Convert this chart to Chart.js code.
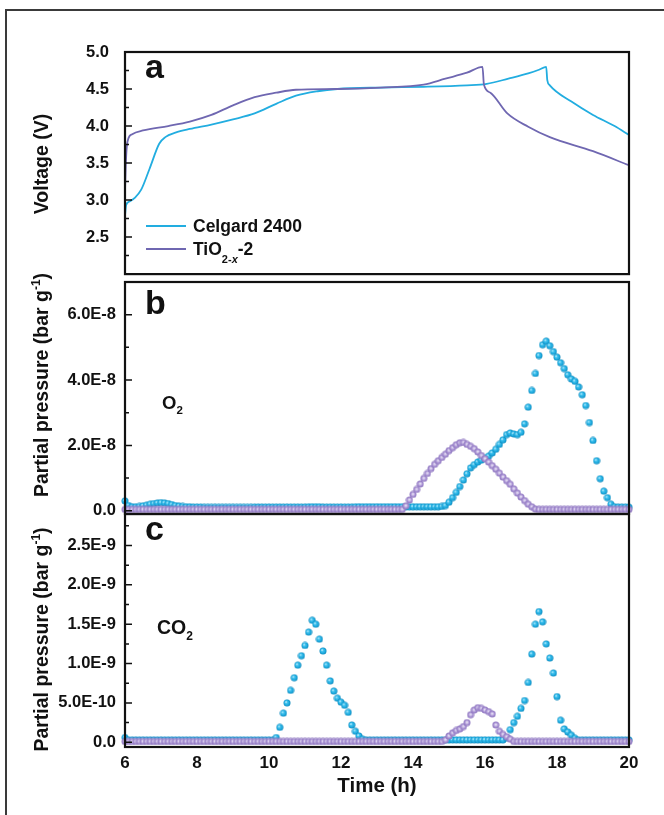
<!DOCTYPE html>
<html>
<head>
<meta charset="utf-8">
<script src="https://cdn.jsdelivr.net/npm/chart.js@4.4.1/dist/chart.umd.min.js"></script>
<style>
  body { margin: 0; background: #fff; }
  #fig { position: relative; width: 664px; height: 815px; overflow: hidden; background: #fff; }
  #frame { position: absolute; left: 5px; top: 9px; width: 700px; height: 900px;
           border-left: 2px solid #3a3a3a; border-top: 2px solid #3a3a3a; }
  .panel { position: absolute; left: 0; width: 664px; }
</style>
</head>
<body>
<div id="fig">
  <div id="frame"></div>
  <div class="panel" style="top:0;height:300px"><canvas id="voltage"></canvas></div>
  <div class="panel" style="top:262px;height:272px"><canvas id="oxygen"></canvas></div>
  <div class="panel" style="top:494px;height:321px"><canvas id="carbon"></canvas></div>
</div>
<script>
// sampling times of the gas analysis (h)
const time = [
  6.0, 6.1, 6.2, 6.3, 6.4, 6.5, 6.6, 6.7, 6.8, 6.9,
  7.0, 7.1, 7.2, 7.3, 7.4, 7.5, 7.6, 7.7, 7.8, 7.9,
  8.0, 8.1, 8.2, 8.3, 8.4, 8.5, 8.6, 8.7, 8.8, 8.9,
  9.0, 9.1, 9.2, 9.3, 9.4, 9.5, 9.6, 9.7, 9.8, 9.9,
  10.0, 10.1, 10.2, 10.3, 10.4, 10.5, 10.6, 10.7, 10.8, 10.9,
  11.0, 11.1, 11.2, 11.3, 11.4, 11.5, 11.6, 11.7, 11.8, 11.9,
  12.0, 12.1, 12.2, 12.3, 12.4, 12.5, 12.6, 12.7, 12.8, 12.9,
  13.0, 13.1, 13.2, 13.3, 13.4, 13.5, 13.6, 13.7, 13.8, 13.9,
  14.0, 14.1, 14.2, 14.3, 14.4, 14.5, 14.6, 14.7, 14.8, 14.9,
  15.0, 15.1, 15.2, 15.3, 15.4, 15.5, 15.6, 15.7, 15.8, 15.9,
  16.0, 16.1, 16.2, 16.3, 16.4, 16.5, 16.6, 16.7, 16.8, 16.9,
  17.0, 17.1, 17.2, 17.3, 17.4, 17.5, 17.6, 17.7, 17.8, 17.9,
  18.0, 18.1, 18.2, 18.3, 18.4, 18.5, 18.6, 18.7, 18.8, 18.9,
  19.0, 19.1, 19.2, 19.3, 19.4, 19.5, 19.6, 19.7, 19.8, 19.9,
  20.0
];

// O2 partial pressure, in units of 1E-8 bar g-1
const celgardO2 = [
  0.30, 0.16, 0.12, 0.12, 0.13, 0.15, 0.17, 0.20, 0.22, 0.24,
  0.25, 0.24, 0.22, 0.19, 0.16, 0.14, 0.13, 0.12, 0.12, 0.11,
  0.11, 0.11, 0.10, 0.10, 0.10, 0.10, 0.10, 0.10, 0.10, 0.10,
  0.10, 0.10, 0.10, 0.10, 0.10, 0.10, 0.11, 0.11, 0.11, 0.11,
  0.11, 0.11, 0.11, 0.11, 0.11, 0.11, 0.11, 0.11, 0.11, 0.11,
  0.11, 0.12, 0.12, 0.12, 0.12, 0.11, 0.11, 0.11, 0.11, 0.11,
  0.11, 0.11, 0.11, 0.11, 0.12, 0.12, 0.12, 0.12, 0.12, 0.12,
  0.12, 0.12, 0.12, 0.12, 0.12, 0.12, 0.12, 0.12, 0.12, 0.12,
  0.12, 0.12, 0.12, 0.12, 0.12, 0.12, 0.12, 0.12, 0.13, 0.16,
  0.26, 0.40, 0.56, 0.74, 0.94, 1.13, 1.31, 1.41, 1.49, 1.55,
  1.60, 1.67, 1.77, 1.88, 2.03, 2.17, 2.33, 2.38, 2.35, 2.33,
  2.40, 2.66, 3.17, 3.68, 4.20, 4.75, 5.08, 5.19, 5.05, 4.87,
  4.70, 4.53, 4.35, 4.16, 4.03, 3.96, 3.79, 3.55, 3.22, 2.70,
  2.15, 1.53, 0.98, 0.60, 0.40, 0.20, 0.12, 0.11, 0.11, 0.11,
  0.11
];
const tioO2 = [
  0.04, 0.04, 0.04, 0.04, 0.04, 0.04, 0.04, 0.04, 0.04, 0.04,
  0.04, 0.04, 0.04, 0.04, 0.04, 0.04, 0.04, 0.04, 0.04, 0.04,
  0.04, 0.04, 0.04, 0.04, 0.04, 0.04, 0.04, 0.04, 0.04, 0.04,
  0.04, 0.04, 0.04, 0.04, 0.04, 0.04, 0.04, 0.04, 0.04, 0.04,
  0.04, 0.04, 0.04, 0.04, 0.04, 0.04, 0.04, 0.04, 0.04, 0.04,
  0.04, 0.04, 0.04, 0.04, 0.04, 0.04, 0.04, 0.04, 0.04, 0.04,
  0.04, 0.04, 0.04, 0.04, 0.04, 0.04, 0.04, 0.04, 0.04, 0.04,
  0.04, 0.04, 0.04, 0.04, 0.04, 0.04, 0.04, 0.04, 0.15, 0.33,
  0.50, 0.65, 0.82, 0.99, 1.14, 1.29, 1.42, 1.53, 1.63, 1.73,
  1.84, 1.93, 2.02, 2.08, 2.09, 2.03, 1.97, 1.90, 1.80, 1.69,
  1.59, 1.49, 1.38, 1.27, 1.15, 1.03, 0.92, 0.81, 0.67, 0.54,
  0.42, 0.31, 0.20, 0.12, 0.05, 0.04, 0.04, 0.04, 0.04, 0.04,
  0.04, 0.04, 0.04, 0.04, 0.04, 0.04, 0.04, 0.04, 0.04, 0.04,
  0.04, 0.04, 0.04, 0.04, 0.04, 0.04, 0.04, 0.04, 0.04, 0.04,
  0.04
];

// CO2 partial pressure, in units of 1E-9 bar g-1
const celgardCO2 = [
  0.06, 0.03, 0.03, 0.03, 0.03, 0.03, 0.03, 0.03, 0.03, 0.03,
  0.03, 0.03, 0.03, 0.03, 0.03, 0.03, 0.03, 0.03, 0.03, 0.03,
  0.03, 0.03, 0.03, 0.03, 0.03, 0.03, 0.03, 0.03, 0.03, 0.03,
  0.03, 0.03, 0.03, 0.03, 0.03, 0.03, 0.03, 0.03, 0.03, 0.03,
  0.03, 0.03, 0.06, 0.19, 0.37, 0.50, 0.66, 0.82, 0.98, 1.10,
  1.23, 1.40, 1.55, 1.50, 1.31, 1.16, 0.98, 0.78, 0.65, 0.56,
  0.51, 0.47, 0.38, 0.22, 0.14, 0.08, 0.04, 0.03, 0.03, 0.03,
  0.03, 0.03, 0.03, 0.03, 0.03, 0.03, 0.03, 0.03, 0.03, 0.03,
  0.03, 0.03, 0.03, 0.03, 0.03, 0.03, 0.03, 0.03, 0.03, 0.03,
  0.03, 0.03, 0.03, 0.03, 0.03, 0.03, 0.03, 0.03, 0.03, 0.03,
  0.03, 0.03, 0.03, 0.03, 0.03, 0.03, 0.06, 0.16, 0.25, 0.33,
  0.43, 0.53, 0.76, 1.12, 1.50, 1.66, 1.53, 1.25, 1.07, 0.88,
  0.58, 0.28, 0.17, 0.13, 0.09, 0.05, 0.03, 0.03, 0.03, 0.03,
  0.03, 0.03, 0.03, 0.03, 0.03, 0.03, 0.03, 0.03, 0.03, 0.03,
  0.03
];
const tioCO2 = [
  0.01, 0.01, 0.01, 0.01, 0.01, 0.01, 0.01, 0.01, 0.01, 0.01,
  0.01, 0.01, 0.01, 0.01, 0.01, 0.01, 0.01, 0.01, 0.01, 0.01,
  0.01, 0.01, 0.01, 0.01, 0.01, 0.01, 0.01, 0.01, 0.01, 0.01,
  0.01, 0.01, 0.01, 0.01, 0.01, 0.01, 0.01, 0.01, 0.01, 0.01,
  0.01, 0.01, 0.01, 0.01, 0.01, 0.01, 0.01, 0.01, 0.01, 0.01,
  0.01, 0.01, 0.01, 0.01, 0.01, 0.01, 0.01, 0.01, 0.01, 0.01,
  0.01, 0.01, 0.01, 0.01, 0.01, 0.01, 0.01, 0.01, 0.01, 0.01,
  0.01, 0.01, 0.01, 0.01, 0.01, 0.01, 0.01, 0.01, 0.01, 0.01,
  0.01, 0.01, 0.01, 0.01, 0.01, 0.01, 0.01, 0.01, 0.01, 0.03,
  0.08, 0.12, 0.15, 0.17, 0.20, 0.25, 0.35, 0.41, 0.44, 0.43,
  0.41, 0.39, 0.36, 0.22, 0.14, 0.10, 0.07, 0.04, 0.01, 0.01,
  0.01, 0.01, 0.01, 0.01, 0.01, 0.01, 0.01, 0.01, 0.01, 0.01,
  0.01, 0.01, 0.01, 0.01, 0.01, 0.01, 0.01, 0.01, 0.01, 0.01,
  0.01, 0.01, 0.01, 0.01, 0.01, 0.01, 0.01, 0.01, 0.01, 0.01,
  0.01
];

// charge/discharge voltage curves
const celgardVTime = [6.0, 6.03, 6.12, 6.27, 6.45, 6.68, 6.95, 7.12, 7.4, 7.8, 8.4, 9.0, 9.6, 10.2,
  10.75, 11.35, 11.9, 13.1, 14.3, 15.5, 16.05, 16.65, 17.2, 17.5, 17.7, 17.73, 17.8, 18.4, 19.0, 19.6, 20.0];
const celgardVolt = [2.79, 2.93, 2.98, 3.03, 3.14, 3.42, 3.76, 3.85, 3.91, 3.96, 4.02, 4.09, 4.17, 4.30,
  4.41, 4.47, 4.50, 4.52, 4.53, 4.55, 4.57, 4.64, 4.71, 4.76, 4.80, 4.62, 4.55, 4.33, 4.15, 4.00, 3.88];
const tioVTime = [6.0, 6.02, 6.05, 6.1, 6.2, 6.5, 7.2, 7.8, 8.4, 9.0, 9.6, 10.2, 10.75, 11.9, 13.1,
  14.3, 14.9, 15.5, 15.93, 15.97, 16.15, 16.62, 17.2, 17.8, 19.0, 20.0];
const tioVolt = [3.12, 3.45, 3.72, 3.84, 3.89, 3.94, 4.00, 4.06, 4.15, 4.28, 4.39, 4.45, 4.49, 4.50, 4.52,
  4.56, 4.64, 4.72, 4.80, 4.56, 4.45, 4.17, 3.99, 3.85, 3.66, 3.47];

const timeTicks = [6, 8, 10, 12, 14, 16, 18, 20];
const timeTickLabels = ['6', '8', '10', '12', '14', '16', '18', '20'];
const voltTicks = [2.5, 3.0, 3.5, 4.0, 4.5, 5.0];
const voltTickLabels = ['2.5', '3.0', '3.5', '4.0', '4.5', '5.0'];
const voltMinor = [2.25, 2.75, 3.25, 3.75, 4.25, 4.75];
const o2Ticks = [0, 2, 4, 6];
const o2TickLabels = ['0.0', '2.0E-8', '4.0E-8', '6.0E-8'];
const o2Minor = [1, 3, 5];
const co2Ticks = [0, 0.5, 1.0, 1.5, 2.0, 2.5];
const co2TickLabels = ['0.0', '5.0E-10', '1.0E-9', '1.5E-9', '2.0E-9', '2.5E-9'];
const co2Minor = [0.25, 0.75, 1.25, 1.75, 2.25, 2.75];

const CYAN = '#22ade0';
const PURPLE = '#6f67b1';
const FONT = '"Liberation Sans", Arial, sans-serif';

Chart.defaults.font.family = FONT;
Chart.defaults.font.weight = 'bold';
Chart.defaults.color = '#111';
Chart.defaults.animation = false;

// shaded ball markers like the original plot
function makeBall(stops, hx, hy) {
  const c = document.createElement('canvas');
  c.width = c.height = 8;
  const g = c.getContext('2d');
  const grd = g.createRadialGradient(hx, hy, 0, 4, 4, 3.7);
  stops.forEach(s => grd.addColorStop(s[0], s[1]));
  g.fillStyle = grd;
  g.beginPath();
  g.arc(4, 4, 3.5, 0, Math.PI * 2);
  g.fill();
  return c;
}
const cyanBall = makeBall([[0, '#e4f8ff'], [0.35, '#40c2ee'], [0.75, '#19a4d9'], [1, '#0f86b8']], 2.9, 2.9);
const purpleBall = makeBall([[0, '#f4f0fa'], [0.3, '#cdbfe8'], [0.6, '#a790d2'], [1, '#8a73bd']], 4, 3.6);

function pts(xs, ys) {
  return xs.map((x, i) => ({ x: x, y: ys[i] }));
}

function fontOf(p) {
  return (p.italic ? 'italic ' : '') + 'bold ' + p.size + 'px ' + FONT;
}
function richWidth(ctx, parts) {
  let w = 0;
  parts.forEach(p => { ctx.font = fontOf(p); w += ctx.measureText(p.text).width; });
  return w;
}
function drawRich(ctx, parts, x, y) {
  parts.forEach(p => {
    ctx.font = fontOf(p);
    ctx.fillText(p.text, x, y + (p.dy || 0));
    x += ctx.measureText(p.text).width;
  });
}

// frame, inward ticks, panel letter, rotated y title, notes
const panelDecor = {
  id: 'panelDecor',
  afterDatasetsDraw(chart, args, o) {
    const ctx = chart.ctx;
    const a = chart.chartArea;
    const ys = chart.scales.y;
    ctx.save();
    ctx.strokeStyle = '#111';
    ctx.lineWidth = 1.5;
    ctx.beginPath();
    o.majors.forEach(v => { const p = ys.getPixelForValue(v); ctx.moveTo(a.left, p); ctx.lineTo(a.left + 7, p); });
    o.minors.forEach(v => { const p = ys.getPixelForValue(v); ctx.moveTo(a.left, p); ctx.lineTo(a.left + 4, p); });
    ctx.stroke();
    ctx.lineWidth = 2.2;
    ctx.strokeRect(a.left, a.top, a.right - a.left, a.bottom - a.top);

    ctx.fillStyle = '#111';
    ctx.textBaseline = 'alphabetic';
    ctx.textAlign = 'left';
    ctx.font = 'bold 34px ' + FONT;
    ctx.fillText(o.letter, a.left + 20, a.top + o.letterDy);

    // y title, rotated
    const w = richWidth(ctx, o.title);
    ctx.save();
    ctx.translate(48, (a.top + a.bottom) / 2 + o.titleShift);
    ctx.rotate(-Math.PI / 2);
    drawRich(ctx, o.title, -w / 2, 0);
    ctx.restore();

    (o.notes || []).forEach(n => drawRich(ctx, n.parts, a.left + n.dx, a.top + n.dy));

    (o.legend || []).forEach(l => {
      ctx.strokeStyle = l.color;
      ctx.lineWidth = 2;
      ctx.beginPath();
      ctx.moveTo(a.left + 21, a.top + l.dy);
      ctx.lineTo(a.left + 61, a.top + l.dy);
      ctx.stroke();
      drawRich(ctx, l.parts, a.left + 68, a.top + l.dy + 6);
    });
    ctx.restore();
  }
};

function yScale(min, max, ticks, labels, pad) {
  return {
    type: 'linear', min: min, max: max,
    afterBuildTicks: s => { s.ticks = ticks.map(v => ({ value: v })); },
    afterFit: s => { s.width = 125; },
    grid: { display: false, drawTicks: false },
    border: { display: false },
    ticks: { padding: pad, autoSkip: false, color: '#111', font: { size: 16.5, weight: 'bold' },
             callback: (v, i) => labels[i] }
  };
}
const hiddenX = { type: 'linear', min: 6, max: 20, display: false };

function scatterSet(data, ball) {
  return { data: data, showLine: false, pointStyle: ball, pointRadius: 3.5, clip: false };
}

new Chart(document.getElementById('voltage'), {
  type: 'line',
  data: {
    datasets: [
      { data: pts(tioVTime, tioVolt), borderColor: PURPLE, borderWidth: 1.8, pointRadius: 0,
        cubicInterpolationMode: 'monotone', tension: 0.4 },
      { data: pts(celgardVTime, celgardVolt), borderColor: CYAN, borderWidth: 1.8, pointRadius: 0,
        cubicInterpolationMode: 'monotone', tension: 0.4 }
    ]
  },
  options: {
    responsive: true, maintainAspectRatio: false,
    layout: { padding: { top: 52, bottom: 18, left: 0, right: 35 } },
    scales: { x: hiddenX, y: yScale(2.0, 5.0, voltTicks, voltTickLabels, 16) },
    plugins: {
      legend: { display: false }, tooltip: { enabled: false },
      panelDecor: {
        letter: 'a', letterDy: 26, majors: voltTicks, minors: voltMinor, titleShift: 1,
        title: [{ text: 'Voltage (V)', size: 19.5 }],
        legend: [
          { color: CYAN, dy: 174, parts: [{ text: 'Celgard 2400', size: 17.5 }] },
          { color: PURPLE, dy: 197, parts: [{ text: 'TiO', size: 17.5 }, { text: '2-', size: 11, dy: 8 },
            { text: 'x', size: 11, dy: 8, italic: true }, { text: '-2', size: 17.5 }] }
        ]
      }
    }
  },
  plugins: [panelDecor]
});

const pressureTitle = [{ text: 'Partial pressure (bar g', size: 19.5 }, { text: '-1', size: 12, dy: -8 },
  { text: ')', size: 19.5 }];

new Chart(document.getElementById('oxygen'), {
  type: 'scatter',
  data: { datasets: [scatterSet(pts(time, tioO2), purpleBall), scatterSet(pts(time, celgardO2), cyanBall)] },
  options: {
    responsive: true, maintainAspectRatio: false,
    layout: { padding: { top: 20, bottom: 20, left: 0, right: 35 } },
    scales: { x: hiddenX, y: yScale(-0.1, 7.0, o2Ticks, o2TickLabels, 9) },
    plugins: {
      legend: { display: false }, tooltip: { enabled: false },
      panelDecor: {
        letter: 'b', letterDy: 32, majors: o2Ticks, minors: o2Minor, titleShift: -13,
        title: pressureTitle,
        notes: [{ dx: 37, dy: 127, parts: [{ text: 'O', size: 18.5 }, { text: '2', size: 11.5, dy: 5 }] }]
      }
    }
  },
  plugins: [panelDecor]
});

new Chart(document.getElementById('carbon'), {
  type: 'scatter',
  data: { datasets: [scatterSet(pts(time, tioCO2), purpleBall), scatterSet(pts(time, celgardCO2), cyanBall)] },
  options: {
    responsive: true, maintainAspectRatio: false,
    layout: { padding: { top: 20, bottom: 0, left: 0, right: 35 } },
    scales: {
      x: {
        type: 'linear', min: 6, max: 20,
        afterBuildTicks: s => { s.ticks = timeTicks.map(v => ({ value: v })); },
        afterFit: s => { s.height = 68; },
        grid: { display: false, drawTicks: false },
        border: { display: false },
        ticks: { padding: 6, autoSkip: false, maxRotation: 0, color: '#111', font: { size: 17, weight: 'bold' },
                 callback: (v, i) => timeTickLabels[i] },
        title: { display: true, text: 'Time (h)', color: '#111', font: { size: 20.5, weight: 'bold' },
                 padding: { top: 0, bottom: 16 } }
      },
      y: yScale(-0.06, 2.9, co2Ticks, co2TickLabels, 9)
    },
    plugins: {
      legend: { display: false }, tooltip: { enabled: false },
      panelDecor: {
        letter: 'c', letterDy: 26, majors: co2Ticks, minors: co2Minor, titleShift: 9,
        title: pressureTitle,
        notes: [{ dx: 32, dy: 120, parts: [{ text: 'CO', size: 19.5 }, { text: '2', size: 12, dy: 6 }] }]
      }
    }
  },
  plugins: [panelDecor]
});
</script>
</body>
</html>
